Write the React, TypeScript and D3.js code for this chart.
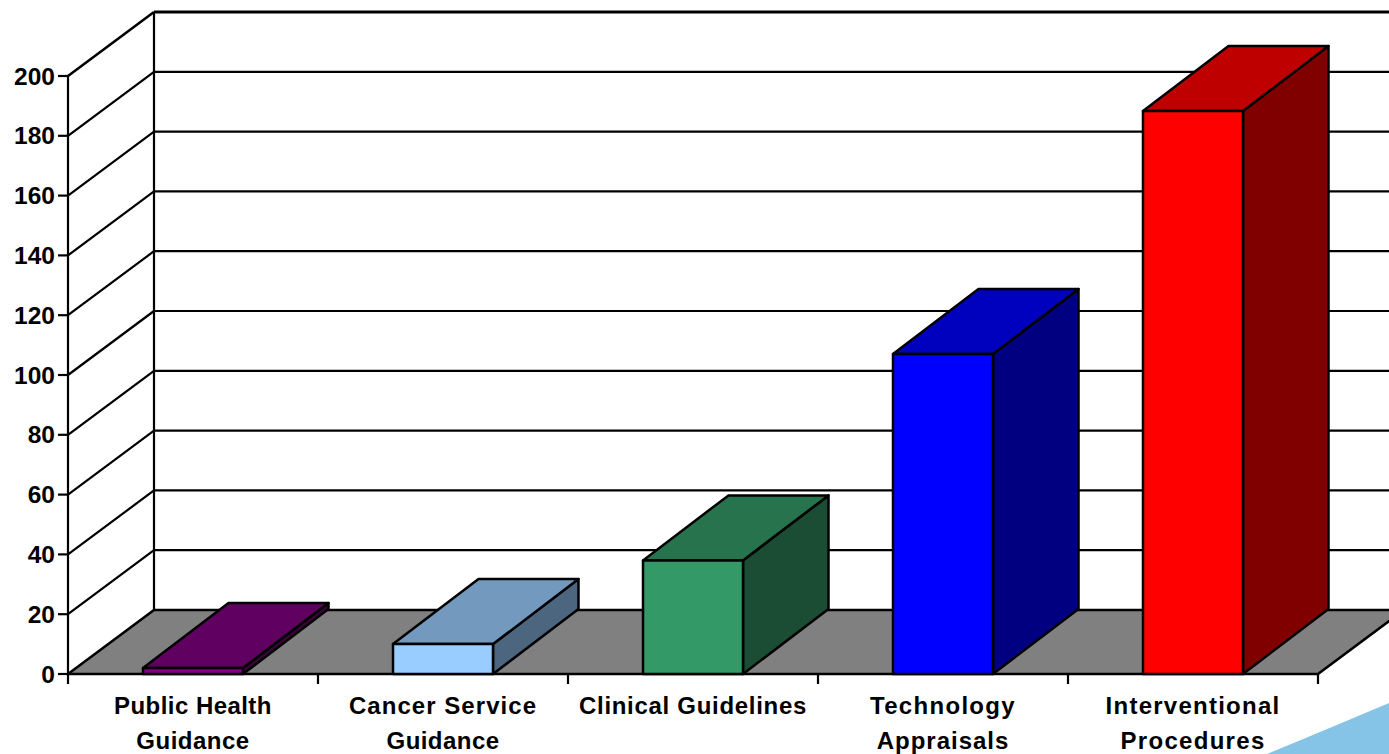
import React from "react";
import * as d3 from "d3";

// Guidance output by programme
const categories = [
  ["Public Health", "Guidance"],
  ["Cancer Service", "Guidance"],
  ["Clinical Guidelines"],
  ["Technology", "Appraisals"],
  ["Interventional", "Procedures"],
];
const labelTracking = [
  [0.45, 0.5],
  [1.05, 0.45],
  [0.7],
  [1.3, 1.0],
  [1.25, 1.3],
];
const values = [2, 10, 38, 107, 188.3];
const yTicks = [0, 20, 40, 60, 80, 100, 120, 140, 160, 180, 200];
const frontColors = ["#800080", "#99ccff", "#339966", "#0000ff", "#ff0000"];
const topColors = ["#600060", "#7399bf", "#26734d", "#0000bf", "#bf0000"];
const sideColors = ["#400040", "#4d6680", "#1a4d33", "#000080", "#800000"];

const WIDTH = 1389;
const HEIGHT = 754;
const DEPTH_X = 86;
const DEPTH_Y = 64;
const BAR_DEPTH_X = 85.5;
const BAR_DEPTH_Y = 65;
const BAR_RATIO = 0.4;

const x = d3
  .scaleBand<number>()
  .domain(categories.map((_, i) => i))
  .range([68, 1318]);
const y = d3.scaleLinear().domain([0, 200]).range([674, 76]);

const poly = (pts: [number, number][]) => d3.line()(pts) + "Z";

export default function App() {
  const x0 = x.range()[0];
  const x1 = x.range()[1];
  const floorY = y(0);
  const topY = y(200);
  const fontFamily = "'Liberation Sans', Arial, sans-serif";

  return (
    <svg
      width={WIDTH}
      height={HEIGHT}
      viewBox={`0 0 ${WIDTH} ${HEIGHT}`}
      style={{ position: "fixed", left: 0, top: 0, background: "#fff" }}
    >
      {/* slide ornament in the lower corner */}
      <path d="M1267,754 Q1330,728 1389,703 L1389,754 Z" fill="#85c4e6" />

      {/* gridlines across side wall and back wall */}
      {yTicks.slice(1).map((t) => (
        <g key={t} stroke="#000" fill="none">
          <line
            x1={x0}
            y1={y(t)}
            x2={x0 + DEPTH_X}
            y2={y(t) - DEPTH_Y}
            strokeWidth={t === 200 ? 2.6 : 2.2}
          />
          <line
            x1={x0 + DEPTH_X}
            y1={y(t) - DEPTH_Y}
            x2={WIDTH}
            y2={y(t) - DEPTH_Y}
            strokeWidth={t === 200 ? 3 : 2.2}
          />
        </g>
      ))}

      {/* floor */}
      <path
        d={poly([
          [x0, floorY],
          [x0 + DEPTH_X, floorY - DEPTH_Y],
          [x1 + DEPTH_X, floorY - DEPTH_Y],
          [x1, floorY],
        ])}
        fill="#808080"
        stroke="#000"
        strokeWidth={2.6}
        strokeLinejoin="round"
      />

      {/* vertical edges of the frame */}
      <line x1={x0} y1={topY} x2={x0} y2={floorY + 10} stroke="#000" strokeWidth={2.2} />
      <line
        x1={x0 + DEPTH_X}
        y1={topY - DEPTH_Y}
        x2={x0 + DEPTH_X}
        y2={floorY - DEPTH_Y}
        stroke="#000"
        strokeWidth={2.2}
      />

      {/* value axis */}
      {yTicks.map((t) => (
        <g key={t}>
          <line x1={x0 - 10} y1={y(t)} x2={x0} y2={y(t)} stroke="#000" strokeWidth={2.2} />
          <text
            x={55}
            y={y(t) + 8.5}
            textAnchor="end"
            fontFamily={fontFamily}
            fontWeight="bold"
            fontSize={24.5}
            fill="#000"
          >
            {t}
          </text>
        </g>
      ))}

      {/* category ticks */}
      {categories.map((_, i) => (
        <line
          key={i}
          x1={(x(i) as number) + x.bandwidth()}
          y1={floorY}
          x2={(x(i) as number) + x.bandwidth()}
          y2={floorY + 10}
          stroke="#000"
          strokeWidth={2.2}
        />
      ))}

      {/* bars */}
      {values.map((v, i) => {
        const bw = x.bandwidth() * BAR_RATIO;
        const left = (x(i) as number) + (x.bandwidth() - bw) / 2;
        const right = left + bw;
        const top = y(v);
        const base = y(0);
        return (
          <g key={i} stroke="#000" strokeWidth={2.5} strokeLinejoin="round">
            <path
              d={poly([
                [right, base],
                [right, top],
                [right + BAR_DEPTH_X, top - BAR_DEPTH_Y],
                [right + BAR_DEPTH_X, base - BAR_DEPTH_Y],
              ])}
              fill={sideColors[i]}
            />
            <path
              d={poly([
                [left, top],
                [left + BAR_DEPTH_X, top - BAR_DEPTH_Y],
                [right + BAR_DEPTH_X, top - BAR_DEPTH_Y],
                [right, top],
              ])}
              fill={topColors[i]}
            />
            <path
              d={poly([
                [left, base],
                [left, top],
                [right, top],
                [right, base],
              ])}
              fill={frontColors[i]}
            />
          </g>
        );
      })}

      {/* category labels */}
      {categories.map((lines, i) => (
        <text
          key={i}
          textAnchor="middle"
          fontFamily={fontFamily}
          fontWeight="bold"
          fontSize={24}
          fill="#000"
        >
          {lines.map((line, j) => (
            <tspan
              key={j}
              x={(x(i) as number) + x.bandwidth() / 2}
              y={714 + j * 35}
              letterSpacing={labelTracking[i][j]}
            >
              {line}
            </tspan>
          ))}
        </text>
      ))}
    </svg>
  );
}
